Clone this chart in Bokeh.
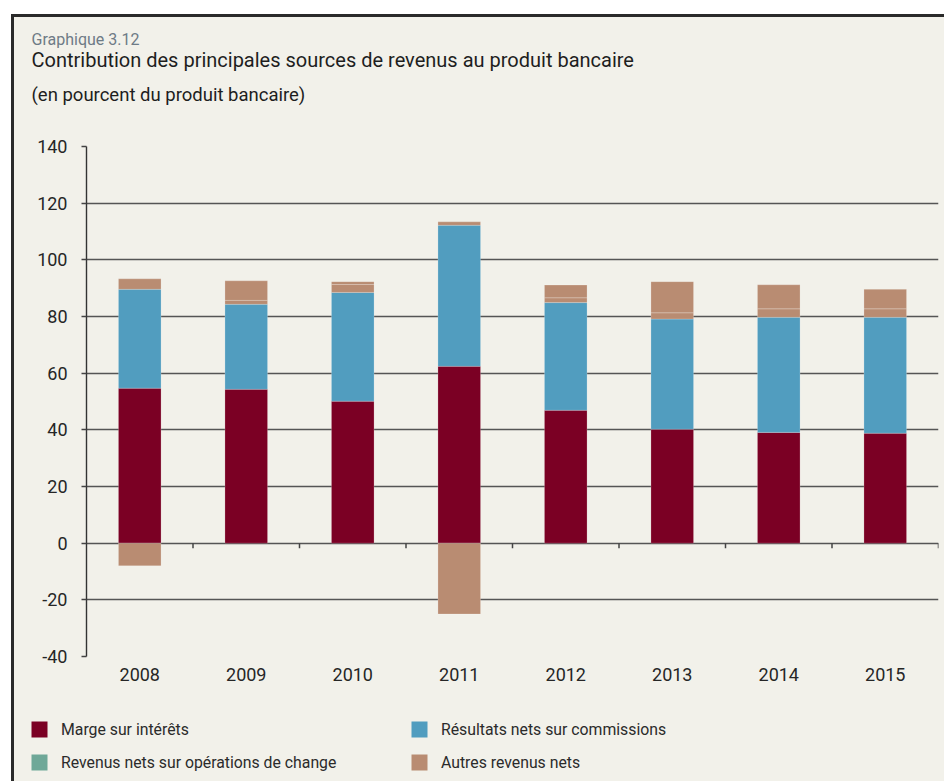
from bokeh.plotting import figure
from bokeh.models import (Label, Legend, LegendItem, FixedTicker, Range1d)
from bokeh.layouts import column
from bokeh.embed import file_html
from bokeh.resources import INLINE

# ---- data -------------------------------------------------------------
years = ["2008", "2009", "2010", "2011", "2012", "2013", "2014", "2015"]
marge = [54.7, 54.3, 50.1, 62.4, 46.9, 40.2, 39.1, 38.8]
commissions = [34.9, 30.0, 38.4, 49.8, 38.0, 38.9, 40.6, 40.9]
change = [3.7, 1.4, 2.8, 1.2, 1.7, 2.2, 3.0, 3.0]
autres = [-8.0, 6.9, 1.0, -25.0, 4.5, 11.0, 8.5, 6.9]
y_ticks = [-40, -20, 0, 20, 40, 60, 80, 100, 120, 140]

series_names = ["Marge sur intérêts", "Résultats nets sur commissions",
                "Revenus nets sur opérations de change", "Autres revenus nets"]
titles = ["Graphique 3.12",
          "Contribution des principales sources de revenus au produit bancaire",
          "(en pourcent du produit bancaire)"]

# ---- style ------------------------------------------------------------
BG = "#f2f1ea"
C_MARGE = "#7b0024"
C_COMM = "#519dbf"
C_CHANGE = "#6fa898"
C_AUTRES = "#b98c72"
FONT = "Roboto"
TXT = "#262626"
W = 930


def blank_fig(h):
    f = figure(width=W, height=h, output_backend="svg", toolbar_location=None,
               x_range=Range1d(0, 1), y_range=Range1d(0, 1),
               x_axis_type=None, y_axis_type=None,
               min_border_left=0, min_border_right=0, min_border_top=0,
               min_border_bottom=0, frame_align=False)
    f.background_fill_color = BG
    f.border_fill_color = BG
    f.outline_line_color = None
    f.grid.visible = False
    return f


# ---- title block ---------------------------------------------------------
TH = 95
tf = blank_fig(TH)
for txt, yb, size, col in [(titles[0], 73, "16px", "#6e7b86"),
                           (titles[1], 53, "20px", "#1e1e1e"),
                           (titles[2], 18, "18.5px", "#1e1e1e")]:
    tf.add_layout(Label(x=17, y=yb, x_units="screen", y_units="screen", text=txt,
                        text_font=FONT, text_font_size=size, text_color=col,
                        text_baseline="alphabetic", text_align="left"))

# ---- chart ------------------------------------------------------------------
p = figure(width=W, height=588, output_backend="svg", toolbar_location=None,
           x_range=Range1d(0, len(years)), y_range=Range1d(-40, 140),
           min_border_left=72, min_border_right=6, min_border_top=34,
           min_border_bottom=44, frame_align=False)
p.background_fill_color = BG
p.border_fill_color = BG
p.outline_line_color = None

xs = [i + 0.5 for i in range(len(years))]
pos = [0.0] * len(years)
neg = [0.0] * len(years)
for vals, col in [(marge, C_MARGE), (commissions, C_COMM),
                  (change, C_AUTRES), (autres, C_AUTRES)]:
    bottoms, tops = [], []
    for i, v in enumerate(vals):
        if v >= 0:
            bottoms.append(pos[i]); tops.append(pos[i] + v); pos[i] += v
        else:
            bottoms.append(neg[i]); tops.append(neg[i] + v); neg[i] += v
    p.vbar(x=xs, bottom=bottoms, top=tops, width=0.4, fill_color=col,
           line_color="white", line_alpha=0.2, line_width=1)

# category ticks on the zero line
bounds = [i + 1 for i in range(len(years))]
p.segment(x0=bounds, x1=bounds, y0=[0] * len(bounds), y1=[-1.8] * len(bounds),
          line_color="#444444", line_width=1.5)

p.ygrid.ticker = FixedTicker(ticks=y_ticks)
p.ygrid.grid_line_color = "#555555"
p.ygrid.grid_line_width = 1.4
p.xgrid.grid_line_color = None

ya = p.yaxis[0]
ya.ticker = FixedTicker(ticks=y_ticks)
ya.major_label_overrides = {t: str(t) for t in y_ticks}
ya.axis_line_color = "#333333"
ya.axis_line_width = 1.4
ya.major_tick_line_color = "#444444"
ya.major_tick_line_width = 1.4
ya.major_tick_out = 5
ya.major_tick_in = 0
ya.minor_tick_line_color = None
ya.major_label_standoff = 14
ya.major_label_text_font = FONT
ya.major_label_text_font_size = "18px"
ya.major_label_text_color = TXT

xa = p.xaxis[0]
xa.ticker = FixedTicker(ticks=xs)
xa.major_label_overrides = {x: y for x, y in zip(xs, years)}
xa.axis_line_color = None
xa.major_tick_line_color = None
xa.minor_tick_line_color = None
xa.major_label_standoff = 5
xa.major_label_text_font = FONT
xa.major_label_text_font_size = "18px"
xa.major_label_text_color = TXT

# ---- legend block -------------------------------------------------------
LH = 81
lf = blank_fig(LH)
sw = {}
for key, col in [("marge", C_MARGE), ("comm", C_COMM), ("change", C_CHANGE),
                 ("autres", C_AUTRES)]:
    # zero-height swatch renderer (invisible in the block, used by the legend)
    sw[key] = lf.vbar(x=xs[:1], top=[0], bottom=[0], width=0.4, fill_color=col,
                      line_color=None)


def col_legend(items, vx):
    lg = Legend(items=items, orientation="vertical", location=(vx, 9),
                glyph_width=20, glyph_height=20, label_standoff=12,
                label_height=20, spacing=13, padding=0, margin=0,
                border_line_alpha=0, background_fill_alpha=0,
                label_text_font=FONT, label_text_font_size="15.8px",
                label_text_color="#2b2b2b")
    lf.add_layout(lg, "center")


col_legend([LegendItem(label=series_names[0], renderers=[sw["marge"]]),
            LegendItem(label=series_names[2], renderers=[sw["change"]])], 15)
col_legend([LegendItem(label=series_names[1], renderers=[sw["comm"]]),
            LegendItem(label=series_names[3], renderers=[sw["autres"]])], 395)

layout = column(tf, p, lf, spacing=0,
                styles={"border-left": "3px solid #2a2a2a",
                        "border-top": "3px solid #2a2a2a",
                        "margin-left": "11px", "margin-top": "14px",
                        "background-color": BG})

open("out.html", "w").write(file_html(layout, INLINE))
